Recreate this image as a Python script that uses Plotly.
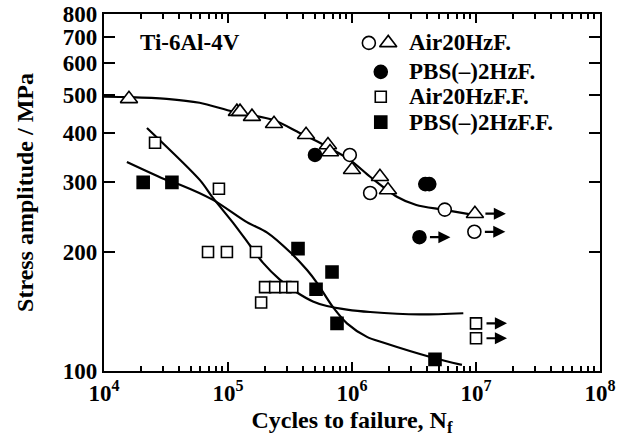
import plotly.graph_objects as go
import math

# ---- data ----
# Air 20 Hz, fretting (open triangles / open circles)
airF_tri_N = [1.59e4, 1.18e5, 1.25e5, 1.56e5, 2.35e5, 4.26e5, 6.4e5, 6.65e5, 1.0e6, 1.68e6, 1.95e6]
airF_tri_S = [488, 453, 453, 440, 422, 396, 373, 358, 323, 310, 287]
airF_tri_run_N = [9.8e6]
airF_tri_run_S = [250]
airF_cir_N = [9.6e5, 1.4e6, 5.6e6]
airF_cir_S = [352, 282, 256]
airF_cir_run_N = [9.7e6]
airF_cir_run_S = [225]
# PBS(-) 2 Hz, fretting (filled circles)
pbsF_N = [5.03e5, 3.9e6, 4.2e6]
pbsF_S = [352, 297, 297]
pbsF_run_N = [3.5e6]
pbsF_run_S = [218]
# Air 20 Hz, fretting fatigue (open squares)
airFF_N = [2.58e4, 8.45e4, 6.9e4, 9.8e4, 1.68e5, 1.99e5, 2.4e5, 2.9e5, 3.3e5, 1.85e5]
airFF_S = [378, 289, 200, 200, 200, 163, 163, 163, 163, 149]
airFF_run_N = [1.0e7, 1.0e7]
airFF_run_S = [132, 121]
# PBS(-) 2 Hz, fretting fatigue (filled squares)
pbsFF_N = [2.07e4, 3.53e4, 3.67e5, 6.9e5, 5.13e5, 7.57e5, 4.67e6]
pbsFF_S = [300, 300, 204, 178, 161, 132, 107]

# fitted curves
curveA_N = [1e4, 1.62e4, 3.2e4, 5.9e4, 1.1e5, 2.3e5, 3.8e5, 5.5e5, 9.6e5, 1.4e6, 2.3e6, 3.3e6, 5.4e6, 9.8e6]
curveA_S = [494, 493, 488, 477, 453, 432, 400, 378, 342, 310, 276, 263, 256, 248]
curveB_N = [2.22e4, 5.94e4, 7.57e4, 1.1e5, 1.5e5, 1.91e5, 2.63e5, 3.6e5, 4.84e5, 6.28e5, 9.1e5, 1.4e6, 3.5e6, 7.9e6]
curveB_S = [412, 304, 274, 237, 208, 188, 170, 158, 150, 146, 143, 141, 139, 140]
curveC_N = [1.53e4, 3.22e4, 4.1e4, 7.57e4, 1.42e5, 2.07e5, 3.16e5, 4.34e5, 5.22e5, 7.03e5, 9.1e5, 1.32e6, 1.78e6, 4.5e6, 7.7e6]
curveC_S = [338, 304, 296, 271, 238, 224, 200, 180, 167, 145, 132, 122, 118, 108, 103.6]

x_tickvals = [1e4, 1e5, 1e6, 1e7, 1e8]
x_ticktext = ["10<sup>4</sup>", "10<sup>5</sup>", "10<sup>6</sup>", "10<sup>7</sup>", "10<sup>8</sup>"]
x_minor_vals = [m * 10 ** e for e in range(4, 8) for m in range(2, 10)]
y_tickvals = [100, 200, 300, 400, 500, 600, 700, 800]
y_ticktext = ["100", "200", "300", "400", "500", "600", "700", "800"]

legend_labels = ["Air20HzF.", "PBS(–)2HzF.", "Air20HzF.F.", "PBS(–)2HzF.F."]

FONT = "Liberation Serif"
fig = go.Figure()

for cn, cs in [(curveA_N, curveA_S), (curveB_N, curveB_S), (curveC_N, curveC_S)]:
    fig.add_trace(go.Scatter(x=cn, y=cs, mode="lines", line=dict(color="black", width=2.2, shape="spline", smoothing=0.8),
                             hoverinfo="skip"))

def mk(x, y, symbol, fill, size):
    fig.add_trace(go.Scatter(x=x, y=y, mode="markers",
                             marker=dict(symbol=symbol, size=size, color=fill, line=dict(color="black", width=1.6))))

mk(airF_tri_N + airF_tri_run_N, airF_tri_S + airF_tri_run_S, "triangle-up", "white", 15)
mk(airF_cir_N + airF_cir_run_N, airF_cir_S + airF_cir_run_S, "circle", "white", 13)
mk(pbsF_N + pbsF_run_N, pbsF_S + pbsF_run_S, "circle", "black", 13)
mk(airFF_N + airFF_run_N, airFF_S + airFF_run_S, "square", "white", 11)
mk(pbsFF_N, pbsFF_S, "square", "black", 12)

# run-out arrows
annotations = []
for rn, rs in [(airF_tri_run_N, airF_tri_run_S), (airF_cir_run_N, airF_cir_run_S),
               (pbsF_run_N, pbsF_run_S), (airFF_run_N, airFF_run_S)]:
    for n, s in zip(rn, rs):
        annotations.append(dict(x=math.log10(n), y=math.log10(s), xref="x", yref="y", text="",
                                showarrow=True, arrowhead=2, arrowsize=1.1, arrowwidth=2.2,
                                arrowcolor="black", ax=-22, ay=0, xshift=31, standoff=0, startstandoff=0))

# legend drawn on an overlay axis
leg_x = [0.534, 0.573, 0.558, 0.558, 0.558]
leg_y = [0.919, 0.919, 0.838, 0.768, 0.697]
leg_sym = ["circle", "triangle-up", "circle", "square", "square"]
leg_fill = ["white", "white", "black", "white", "black"]
leg_size = [13, 15, 13, 11, 12]
for lx, ly, sy, fc, sz in zip(leg_x, leg_y, leg_sym, leg_fill, leg_size):
    fig.add_trace(go.Scatter(x=[lx], y=[ly], xaxis="x2", yaxis="y2", mode="markers",
                             marker=dict(symbol=sy, size=sz, color=fc, line=dict(color="black", width=1.6))))
for lab, ly in zip(legend_labels, [0.919, 0.838, 0.768, 0.697]):
    annotations.append(dict(x=0.611, y=ly, xref="paper", yref="paper", text=lab, showarrow=False,
                            xanchor="left", yanchor="middle", font=dict(size=23)))
annotations.append(dict(x=0.0685, y=0.919, xref="paper", yref="paper", text="Ti-6Al-4V", showarrow=False,
                        xanchor="left", yanchor="middle", font=dict(size=23)))

fig.update_layout(
    width=627, height=445,
    margin=dict(l=104, r=27, t=14, b=74),
    paper_bgcolor="white", plot_bgcolor="white",
    showlegend=False,
    font=dict(family=FONT, size=23, color="black", weight="bold"),
    annotations=annotations,
    xaxis=dict(type="log", range=[4, 8], tickvals=x_tickvals, ticktext=x_ticktext, automargin=False,
               ticks="inside", ticklen=9, tickwidth=2, tickcolor="black", ticklabelstandoff=0,
               minor=dict(ticks="inside", ticklen=5, tickwidth=1.5, tickcolor="black",
                          tickvals=x_minor_vals, showgrid=False),
               showline=True, linewidth=2.2, linecolor="black", mirror="ticks", showgrid=False, zeroline=False,
               title=dict(text="Cycles to failure, N<sub>f</sub>", font=dict(size=24), standoff=6)),
    yaxis=dict(type="log", range=[2, math.log10(800)], tickvals=y_tickvals, ticktext=y_ticktext, automargin=False,
               ticks="inside", ticklen=11, tickwidth=2, tickcolor="black",
               showline=True, linewidth=2.2, linecolor="black", mirror="ticks", showgrid=False, zeroline=False,
               title=dict(text="Stress amplitude / MPa", font=dict(size=24), standoff=22)),
    xaxis2=dict(overlaying="x", range=[0, 1], visible=False),
    yaxis2=dict(overlaying="y", range=[0, 1], visible=False),
)

fig.write_html("out.html")
